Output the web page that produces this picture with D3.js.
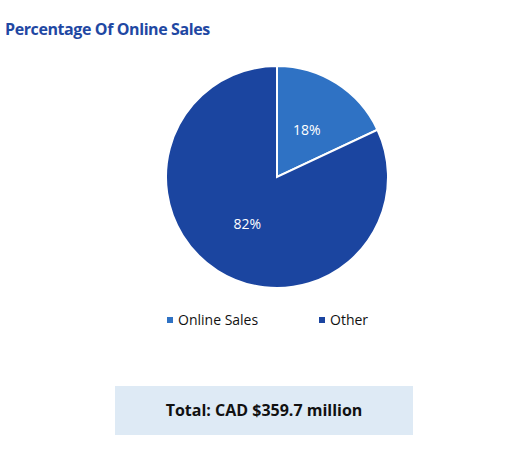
<!DOCTYPE html>
<html>
<head>
<meta charset="utf-8">
<script src="https://cdn.jsdelivr.net/npm/d3@7"></script>
<style>
  body { margin: 0; background: #fff; }
  svg { display: block; font-family: "Open Sans", "Liberation Sans", sans-serif; }
</style>
</head>
<body>
<div id="chart"></div>
<script>
// data
const categories = ["Online Sales", "Other"];
const shares = [18, 82];
const colors = ["#2F72C4", "#1B45A0"];
const titleText = "Percentage Of Online Sales";
const totalText = "Total: CAD $359.7 million";

const width = 527, height = 457;
const cx = 277, cy = 177, radius = 111;

const svg = d3.select("#chart").append("svg")
    .attr("width", width)
    .attr("height", height);

// title
svg.append("text")
    .attr("x", 5)
    .attr("y", 35)
    .attr("fill", "#1F48A3")
    .attr("font-size", 16)
    .attr("font-weight", "bold")
    .attr("letter-spacing", -0.4)
    .text(titleText);

const data = categories.map((c, i) => ({ name: c, value: shares[i] }));
const color = d3.scaleOrdinal().domain(categories).range(colors);

const pie = d3.pie().sort(null).value(d => d.value);
const arc = d3.arc().innerRadius(0).outerRadius(radius);

const g = svg.append("g").attr("transform", `translate(${cx},${cy})`);

g.selectAll("path")
    .data(pie(data))
    .join("path")
    .attr("d", arc)
    .attr("fill", d => color(d.data.name))
    .attr("stroke", "#fff")
    .attr("stroke-width", 2);

g.selectAll("text")
    .data(pie(data))
    .join("text")
    .attr("transform", d => `translate(${arc.centroid(d)})`)
    .attr("text-anchor", "middle")
    .attr("dy", "0.35em")
    .attr("fill", "#fff")
    .attr("font-size", 14)
    .text(d => d.data.value + "%");

// legend
const legendX = [167, 319];
const legend = svg.append("g")
    .selectAll("g")
    .data(categories)
    .join("g")
    .attr("transform", (d, i) => `translate(${legendX[i]},320)`);

legend.append("rect")
    .attr("x", 0)
    .attr("y", -3)
    .attr("width", 6)
    .attr("height", 6)
    .attr("fill", d => color(d));

legend.append("text")
    .attr("x", 11)
    .attr("dy", "0.35em")
    .attr("font-size", 14)
    .attr("fill", "#111")
    .text(d => d);

// total box
svg.append("rect")
    .attr("x", 115)
    .attr("y", 386)
    .attr("width", 298)
    .attr("height", 49)
    .attr("fill", "#DEEAF5");

svg.append("text")
    .attr("x", 264)
    .attr("y", 410)
    .attr("dy", "0.35em")
    .attr("text-anchor", "middle")
    .attr("font-size", 16)
    .attr("font-weight", "bold")
    .attr("fill", "#111")
    .text(totalText);
</script>
</body>
</html>
